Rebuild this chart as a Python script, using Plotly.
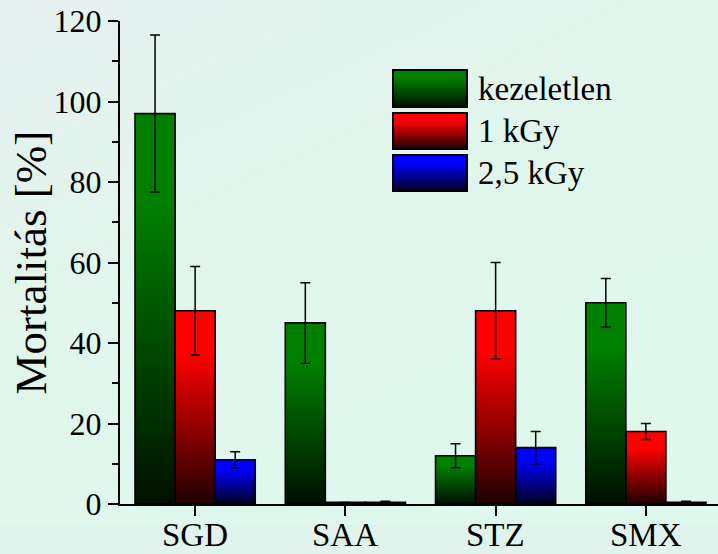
import base64
import plotly.graph_objects as go

# ---- data -------------------------------------------------------------
categories = ["SGD", "SAA", "STZ", "SMX"]
series_names = ["kezeletlen", "1 kGy", "2,5 kGy"]

untreated = [97, 45, 12, 50]
untreated_err = [19.5, 10, 3, 6]
dose_1kgy = [48, 0.4, 48, 18]
dose_1kgy_err = [11, 0, 12, 2]
dose_25kgy = [11, 0.4, 14, 0.4]
dose_25kgy_err = [2, 0.3, 4, 0.3]

y_ticks = [0, 20, 40, 60, 80, 100, 120]

# ---- styling ------------------------------------------------------------
FONT = "Liberation Serif"
base_rgb = [(0, 128, 0), (255, 0, 0), (0, 0, 255)]
values = [untreated, dose_1kgy, dose_25kgy]
errors = [untreated_err, dose_1kgy_err, dose_25kgy_err]

W, H = 718, 554
ML, MR, MT, MB = 120, 0, 21, 50
PW, PH = W - ML - MR, H - MT - MB

N_SEG = 80          # vertical bands used to shade each bar


def shade(rgb, f):
    """Colour at relative height f (0 = bottom, 1 = top) of a bar."""
    k = 0.12 + 0.88 * min(1.0, f / 0.78)
    return "rgb(%d,%d,%d)" % tuple(round(c * k) for c in rgb)


fig = go.Figure()

# shaded bar bodies: overlapping bars from full height down to the
# lowest band, each one painted over the previous so no seams appear
for s, (vals, rgb) in enumerate(zip(values, base_rgb)):
    for k in reversed(range(N_SEG)):
        col = shade(rgb, (k + 0.5) / N_SEG)
        fig.add_trace(go.Bar(
            x=categories,
            y=[v * (k + 1) / N_SEG for v in vals],
            offsetgroup=str(s),
            marker=dict(color=col, line=dict(width=0)),
            showlegend=False, hoverinfo="skip",
        ))

# outlines + error bars
for s, (vals, errs, name) in enumerate(zip(values, errors, series_names)):
    fig.add_trace(go.Bar(
        x=categories, y=vals, name=name,
        offsetgroup=str(s),
        marker=dict(color="rgba(0,0,0,0)", line=dict(color="black", width=1.6)),
        error_y=dict(type="data", array=errs, visible=True,
                     color="black", thickness=1.5, width=5),
        showlegend=False,
    ))


def svg_uri(svg):
    return "data:image/svg+xml;base64," + base64.b64encode(svg.encode()).decode()


images = []
# page background: soft mint gradient
bg_svg = (
    '<svg xmlns="http://www.w3.org/2000/svg" width="718" height="554">'
    '<defs><linearGradient id="g" x1="0" y1="0" x2="0.6" y2="1">'
    '<stop offset="0" stop-color="#e5f0ef"/>'
    '<stop offset="0.55" stop-color="#e0f6ec"/>'
    '<stop offset="1" stop-color="#def8ee"/>'
    '</linearGradient></defs>'
    '<rect width="718" height="554" fill="url(#g)"/></svg>'
)
images.append(dict(source=svg_uri(bg_svg), xref="paper", yref="paper",
                   x=-ML / PW, y=(PH + MB) / PH, sizex=W / PW, sizey=H / PH,
                   xanchor="left", yanchor="top", sizing="stretch",
                   layer="below"))

# legend swatches drawn with the same shading
legend_rows = [(69, 108), (112, 150), (154, 192)]
sw_x0, sw_x1 = 392, 468
annotations = []
for (top, bot), rgb, name in zip(legend_rows, base_rgb, series_names):
    w, h = sw_x1 - sw_x0, bot - top
    stops = "".join(
        '<stop offset="%.2f" stop-color="%s"/>' % (o, shade(rgb, 1 - o))
        for o in [i / 10 for i in range(11)]
    )
    sw_svg = (
        '<svg xmlns="http://www.w3.org/2000/svg" width="%d" height="%d">'
        '<defs><linearGradient id="s" x1="0" y1="0" x2="0" y2="1">%s'
        '</linearGradient></defs>'
        '<rect x="1" y="1" width="%d" height="%d" fill="url(#s)" '
        'stroke="black" stroke-width="2"/></svg>'
    ) % (w, h, stops, w - 2, h - 2)
    images.append(dict(source=svg_uri(sw_svg), xref="paper", yref="paper",
                       x=(sw_x0 - ML) / PW, y=(H - MB - top) / PH,
                       sizex=w / PW, sizey=h / PH,
                       xanchor="left", yanchor="top", sizing="stretch",
                       layer="above"))
    annotations.append(dict(text=name, xref="paper", yref="paper",
                            x=(476 - ML) / PW, y=(H - MB - (top + bot) / 2) / PH,
                            xanchor="left", yanchor="middle", showarrow=False,
                            font=dict(family=FONT, size=33, color="black")))

# category labels under the x axis
for c in categories:
    annotations.append(dict(text=c, xref="x", yref="paper", x=c, y=0,
                            yshift=-31, xanchor="center", yanchor="middle",
                            showarrow=False,
                            font=dict(family=FONT, size=33, color="black")))

# y-axis title
annotations.append(dict(text="Mortalitás [%]", xref="paper", yref="paper",
                        x=(30 - ML) / PW, y=0.5, textangle=-90,
                        xanchor="center", yanchor="middle", showarrow=False,
                        font=dict(family=FONT, size=45, color="black")))

fig.update_layout(
    width=W, height=H,
    margin=dict(l=ML, r=MR, t=MT, b=MB, pad=0, autoexpand=False),
    paper_bgcolor="#e0f4ed", plot_bgcolor="rgba(0,0,0,0)",
    barmode="group", bargap=0.2, bargroupgap=0,
    showlegend=False,
    images=images, annotations=annotations,
    font=dict(family=FONT, size=32, color="black"),
    xaxis=dict(
        type="category", range=[-0.5, 3.48], automargin=False,
        showline=True, linecolor="black", linewidth=2,
        ticks="outside", ticklen=10, tickwidth=2, tickcolor="black",
        showticklabels=False,
        showgrid=False, zeroline=False,
    ),
    yaxis=dict(
        range=[0, 120], tickvals=y_ticks, automargin=False,
        showline=True, linecolor="black", linewidth=2,
        ticks="outside", ticklen=10, tickwidth=1.5, tickcolor="black",
        minor=dict(dtick=10, ticks="outside", ticklen=6, tickwidth=1.5,
                   tickcolor="black"),
        ticklabelstandoff=0,
        showgrid=False, zeroline=False,
        tickfont=dict(family=FONT, size=32, color="black"),
    ),
)

fig.write_html("out.html")
